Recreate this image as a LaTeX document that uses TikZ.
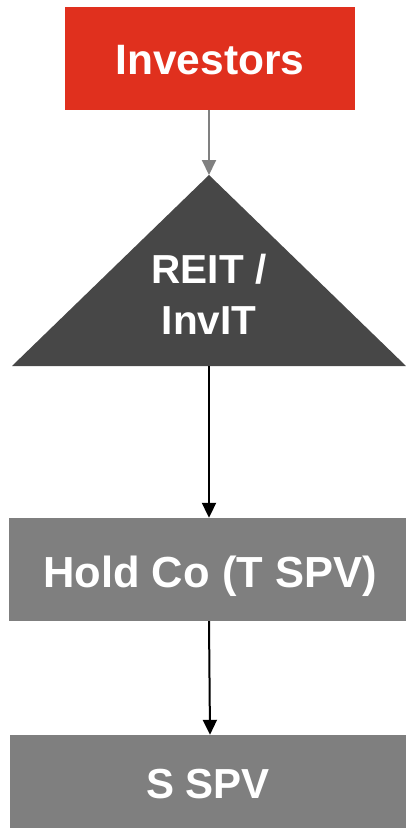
\documentclass[tikz,border=0pt]{standalone}
\usepackage{fontspec}
\setmainfont{Liberation Sans}
\usetikzlibrary{arrows.meta}
\definecolor{pwcred}{HTML}{E0301E}
\definecolor{darkfill}{HTML}{474747}
\definecolor{midfill}{HTML}{7F7F7F}
\definecolor{linkgrey}{HTML}{808080}
\begin{document}
\begin{tikzpicture}[x=1pt,y=-1pt,
  box/.style={rectangle, inner sep=0pt},
  label/.style={text=white, anchor=base, inner sep=0pt, font=\bfseries\fontsize{#1}{48}\selectfont},
  link/.style={line width=2pt, -{Triangle[width=14pt,length=15pt]}}]
\useasboundingbox (0,0) rectangle (406,828);
% investors box
\node[box, fill=pwcred, minimum width=290pt, minimum height=103pt] (inv) at (210,58.5) {};
\node[label=42.5] (invtext) at (210,74) {Investors};
% trust triangle
\coordinate (apex) at (209,175);
\coordinate (base) at (209,366);
\fill[darkfill] (apex) -- (406,366) -- (12,366) -- cycle;
\node[label=40.5] (reit1) at (209,283) {REIT /};
\node[label=40.5] (reit2) at (209,334) {InvIT};
% holding company
\node[box, fill=midfill, minimum width=397pt, minimum height=103pt] (hold) at (207.5,569.5) {};
\node[label=43.5] (holdtext) at (210,587) {Hold Co (T SPV)};
% special purpose vehicle
\node[box, fill=midfill, minimum width=396pt, minimum height=93pt] (sspv) at (208,781.5) {};
\node[label=42] (sspvtext) at (208,798) {S SPV};
% connectors
\draw[link, draw=linkgrey, fill=linkgrey] (inv.south -| apex) -- (apex);
\draw[link, black] (base) -- (base |- hold.north);
\draw[link, black] (hold.south -| base) -- ([xshift=1pt]sspv.north -| base);
\end{tikzpicture}
\end{document}
